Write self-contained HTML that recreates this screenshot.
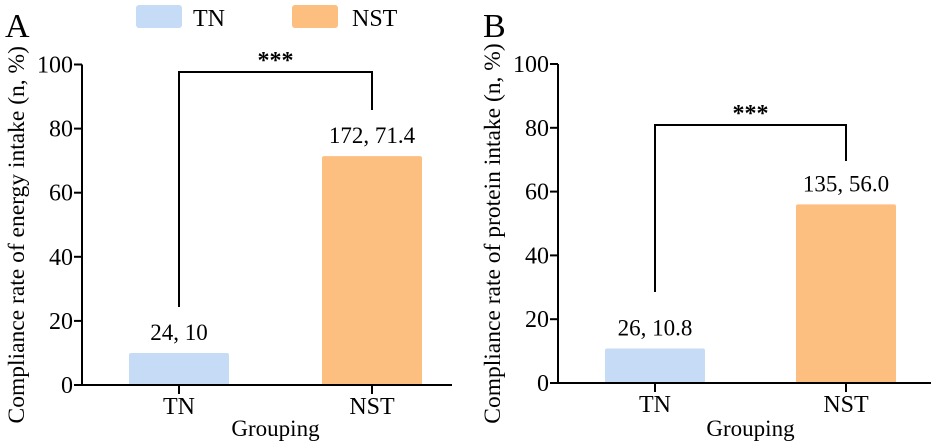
<!DOCTYPE html>
<html><head><meta charset="utf-8"><style>
body{margin:0;background:#fff}
svg{display:block;font-family:"Liberation Serif",serif}
</style></head><body>
<svg id="c" width="935" height="444"></svg>
<script>
const categories=["TN","NST"];
const energyValues=[10,71.4];
const energyLabels=["24, 10","172, 71.4"];
const proteinValues=[10.8,56.0];
const proteinLabels=["26, 10.8","135, 56.0"];
const yTicks=[0,20,40,60,80,100];
const colors=["#c6dbf5","#fdbf80"];
const NS="http://www.w3.org/2000/svg";
const svg=document.getElementById('c');
function mk(t,a,txt,p){const e=document.createElementNS(NS,t);for(const k in a)e.setAttribute(k,a[k]);if(txt!==undefined)e.textContent=txt;(p||svg).appendChild(e);return e;}
function panel(o){
 const g=mk('g',{});
 
 
 const y=v=>o.y0-(o.y0-o.y100)*v/100;
 const t=mk('text',{x:o.lx,y:37,'font-size':34},o.letter,g);
 
 
 o.vals.forEach((v,i)=>{
  const cx=o.cx[i];
  const b=mk('rect',{x:cx-50,y:y(v),width:100,height:o.y0-y(v),fill:colors[i],rx:2},undefined,g);
  
  
  const l=mk('text',{x:cx,y:y(v)-13,'font-size':23,'text-anchor':'middle'},o.labels[i],g);
  
  
  mk('line',{x1:cx,x2:cx,y1:o.y0,y2:o.y0+9,stroke:'#000','stroke-width':2},undefined,g);
  const xl=mk('text',{x:cx,y:o.y0+29,'font-size':24,'text-anchor':'middle'},categories[i],g);
  
  
 });
 const ax=mk('path',{d:`M${o.ax},${o.y100}V${o.y0}H${o.xend}`,stroke:'#000','stroke-width':2,fill:'none'},undefined,g);
 
 
 yTicks.forEach(v=>{
  mk('line',{x1:o.ax-8,x2:o.ax,y1:y(v),y2:y(v),stroke:'#000','stroke-width':2},undefined,g);
  const tl=mk('text',{x:o.ax-9,y:y(v)+8,'font-size':24,'text-anchor':'end'},v,g);
  
  
 });
 const yt=mk('text',{transform:`translate(${o.ax-58},${(o.y0+o.y100)/2+10}) rotate(-90)`,'font-size':23.5,'text-anchor':'middle'},o.ytitle,g);
 
 
 const xt=mk('text',{x:(o.cx[0]+o.cx[1])/2,y:436,'font-size':23,'text-anchor':'middle'},'Grouping',g);
 
 
 const br=mk('path',{d:`M${o.cx[0]},${o.bl}V${o.bt}H${o.cx[1]}V${o.br}`,stroke:'#000','stroke-width':2,fill:'none'},undefined,g);
 
 
 const st=mk('text',{x:(o.cx[0]+o.cx[1])/2,y:o.bt-4,'font-size':24,'font-weight':'bold','text-anchor':'middle'},'***',g);
 
 
}
panel({name:'panel-a',letter:'A',lx:5,ax:82,xend:452,y0:385,y100:64.5,cx:[179,372],vals:energyValues,labels:energyLabels,ytitle:'Compliance rate of energy intake (n, %)',bt:72,bl:307,br:110});
panel({name:'panel-b',letter:'B',lx:483,ax:558,xend:931,y0:383,y100:64,cx:[655,846],vals:proteinValues,labels:proteinLabels,ytitle:'Compliance rate of protein intake (n, %)',bt:125,bl:292,br:161});
[[136,193],[292,352]].forEach((p,i)=>{
 const lg=mk('g',{});
 
 
 mk('rect',{x:p[0],y:5,width:46,height:23,rx:3,fill:colors[i]},undefined,lg);
 mk('text',{x:p[1],y:26,'font-size':24},categories[i],lg);
});
</script>
</body></html>
